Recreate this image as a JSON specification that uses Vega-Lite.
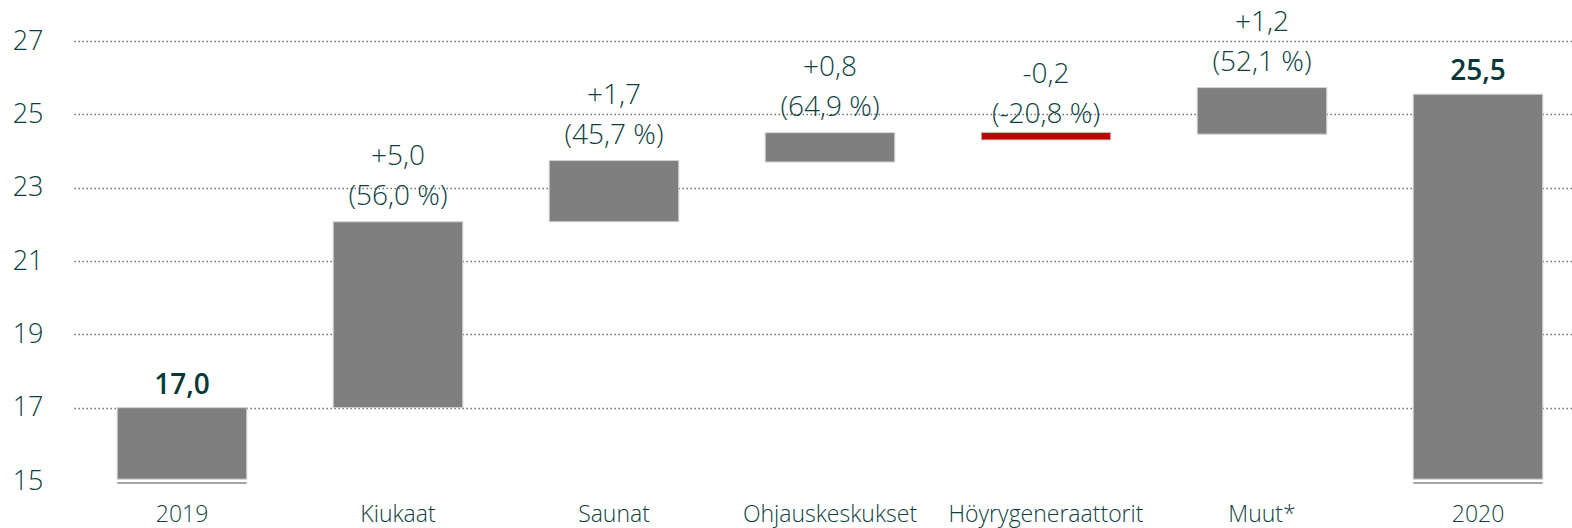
{
  "$schema": "https://vega.github.io/schema/vega-lite/v6.json",
  "width": 1512,
  "height": 440,
  "autosize": {"type": "none"},
  "padding": {"left": 74, "top": 41, "right": 0, "bottom": 47},
  "background": "white",
  "config": {"view": {"stroke": null}, "font": "Open Sans"},
  "data": {
    "values": [
      {"cat": "2019", "start": 15.05, "end": 17.0, "type": "total", "change": "17,0", "pct": ""},
      {"cat": "Kiukaat", "start": 17.0, "end": 22.07, "type": "up", "change": "+5,0", "pct": "(56,0 %)"},
      {"cat": "Saunat", "start": 22.07, "end": 23.74, "type": "up", "change": "+1,7", "pct": "(45,7 %)"},
      {"cat": "Ohjauskeskukset", "start": 23.7, "end": 24.5, "type": "up", "change": "+0,8", "pct": "(64,9 %)"},
      {"cat": "Höyrygeneraattorit", "start": 24.51, "end": 24.3, "type": "down", "change": "-0,2", "pct": "(-20,8 %)"},
      {"cat": "Muut*", "start": 24.46, "end": 25.73, "type": "up", "change": "+1,2", "pct": "(52,1 %)"},
      {"cat": "2020", "start": 15.05, "end": 25.55, "type": "total", "change": "25,5", "pct": ""}
    ]
  },
  "encoding": {
    "x": {
      "field": "cat",
      "type": "nominal",
      "sort": null,
      "title": null,
      "scale": {"paddingInner": 0.4, "paddingOuter": 0.2},
      "axis": {
        "domain": false,
        "ticks": false,
        "labelAngle": 0,
        "labelLimit": 0,
        "labelFont": "Open Sans",
        "labelFontSize": 23,
        "labelFontWeight": 300,
        "labelColor": "#0e3f3f",
        "labelPadding": 22
      }
    }
  },
  "layer": [
    {
      "mark": {"type": "bar", "stroke": "#d4d4d4", "strokeWidth": 1},
      "encoding": {
        "y": {
          "field": "start",
          "type": "quantitative",
          "title": null,
          "scale": {"domain": [15, 27], "nice": false, "zero": false},
          "axis": {
            "values": [15, 17, 19, 21, 23, 25, 27],
            "domain": false,
            "ticks": false,
            "labelFont": "Open Sans",
            "labelFontSize": 27,
            "labelFontWeight": 300,
            "labelColor": "#0e3f3f",
            "labelPadding": 31,
            "labelBaseline": "middle",
            "gridColor": "#707070",
            "gridDash": [1.5, 2.5],
            "gridWidth": 1.3,
            "gridOpacity": {"condition": {"test": "datum.value == 15", "value": 0}, "value": 1}
          }
        },
        "y2": {"field": "end"},
        "color": {
          "field": "type",
          "type": "nominal",
          "scale": {"domain": ["total", "up", "down"], "range": ["#7f7f7f", "#7f7f7f", "#c00000"]},
          "legend": null
        }
      }
    },
    {
      "transform": [{"filter": "datum.type === 'total'"}],
      "mark": {"type": "bar", "color": "#a6a6a6"},
      "encoding": {
        "y": {"datum": 14.97, "type": "quantitative"},
        "y2": {"datum": 14.92}
      }
    },
    {
      "transform": [{"filter": "datum.type !== 'total'"}],
      "mark": {"type": "text", "font": "Open Sans", "fontSize": 28, "fontWeight": 300, "color": "#0e3f3f", "baseline": "alphabetic", "align": "center", "dy": -57},
      "encoding": {
        "y": {"field": "end", "type": "quantitative"},
        "text": {"field": "change"}
      }
    },
    {
      "transform": [{"filter": "datum.type !== 'total'"}],
      "mark": {"type": "text", "font": "Open Sans", "fontSize": 28, "fontWeight": 300, "color": "#0e3f3f", "baseline": "alphabetic", "align": "center", "dy": -17},
      "encoding": {
        "y": {"field": "end", "type": "quantitative"},
        "text": {"field": "pct"}
      }
    },
    {
      "transform": [{"filter": "datum.type === 'total'"}],
      "mark": {"type": "text", "font": "Open Sans", "fontSize": 28, "fontWeight": 600, "color": "#073838", "baseline": "alphabetic", "align": "center", "dy": -14},
      "encoding": {
        "y": {"field": "end", "type": "quantitative"},
        "text": {"field": "change"}
      }
    }
  ]
}
